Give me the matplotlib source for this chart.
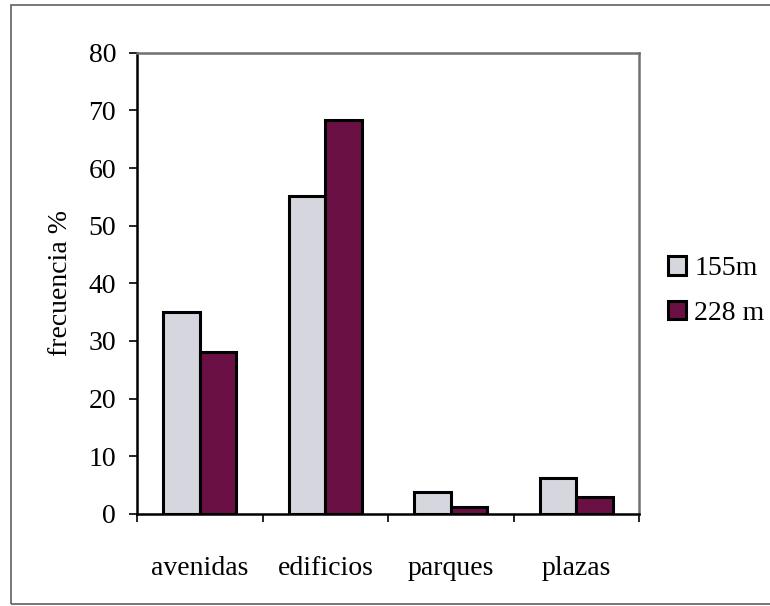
import numpy as np
import matplotlib.pyplot as plt
from matplotlib.patches import Rectangle

plt.rcParams['font.family'] = ['Liberation Serif', 'DejaVu Serif']

categorias = ['avenidas', 'edificios', 'parques', 'plazas']
serie_155 = [35, 55.2, 3.8, 6.2]
serie_228 = [28, 68.4, 1.2, 2.9]
etiquetas = ['155m', '228 m']

fig = plt.figure(figsize=(7.7, 6.06), dpi=100)
ax = fig.add_axes([0.178, 0.152, 0.652, 0.761])

x = np.arange(len(categorias))
w = 0.29
ax.bar(x - w, serie_155, width=w, align='edge', color='#d6d6de',
       edgecolor='black', linewidth=2.2, label=etiquetas[0])
ax.bar(x, serie_228, width=w, align='edge', color='#6a1045',
       edgecolor='black', linewidth=2.2, label=etiquetas[1])

ax.set_xlim(-0.5, 3.5)
ax.set_ylim(0, 80)
ax.set_yticks(np.arange(0, 81, 10))
ax.set_xticks(np.arange(-0.5, 3.6, 1))
ax.set_xticklabels([])
ax.set_xticks(x, minor=True)
ax.set_xticklabels(categorias, minor=True)
ax.tick_params(axis='x', which='minor', length=0, pad=30, labelsize=20)
ax.tick_params(axis='x', which='major', length=6, width=1.2, direction='out')
ax.tick_params(axis='y', length=6, width=1.2, direction='out', labelsize=20, pad=9)
ax.set_ylabel('frecuencia %', fontsize=20, labelpad=11)

for s in ['top', 'right']:
    ax.spines[s].set_color('#707070')
    ax.spines[s].set_linewidth(1.8)
for s in ['left', 'bottom']:
    ax.spines[s].set_color('black')
    ax.spines[s].set_linewidth(1.8)

leg = ax.legend(loc='center left', bbox_to_anchor=(1.035, 0.483), frameon=False,
                fontsize=20, handlelength=0.65, handleheight=0.65,
                handletextpad=0.3, labelspacing=0.7, borderaxespad=0)

# marco exterior del gráfico
fig.patches.append(Rectangle((11 / 770, 1 - 604 / 606), 1.0, 599 / 606,
                             transform=fig.transFigure, fill=False,
                             edgecolor='#606060', linewidth=1.2))

fig.savefig('out.png', dpi=100)
